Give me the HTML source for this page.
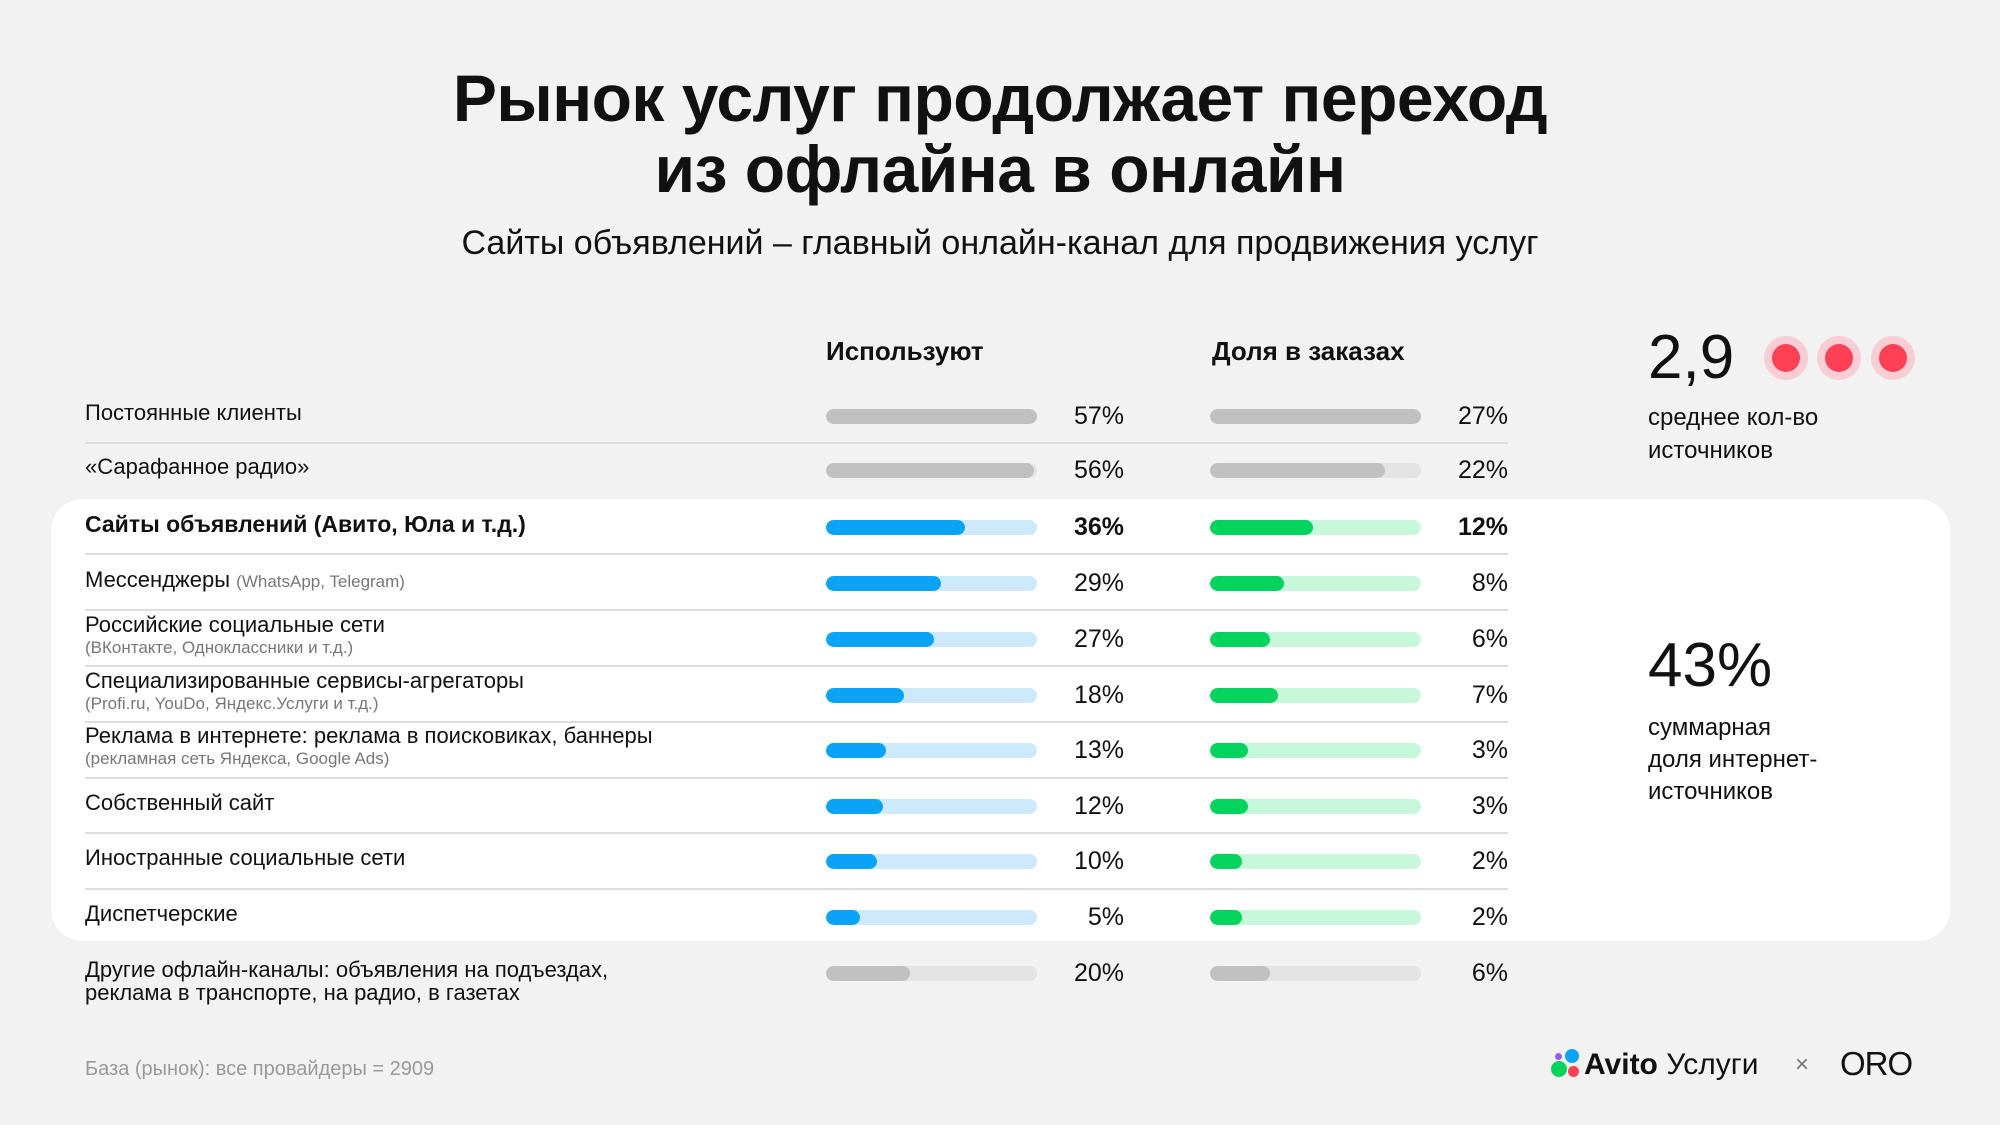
<!DOCTYPE html>
<html><head><meta charset="utf-8"><style>
body{margin:0;width:2000px;height:1125px;background:#f2f2f2;font-family:"Liberation Sans","DejaVu Sans",sans-serif;color:#111;position:relative;overflow:hidden}
.a{position:absolute;white-space:nowrap}
.t{left:0;width:2000px;text-align:center;font-weight:bold;font-size:66px;letter-spacing:-0.5px}
.card{position:absolute;left:51px;top:499px;width:1899px;height:442px;background:#fff;border-radius:32px}
.lab{left:85px;font-size:22px;line-height:26px}
.sub{font-size:17px;color:#777}
.tr{position:absolute;height:15px;width:211px;border-radius:8px;overflow:hidden}
.tr i{position:absolute;left:0;top:0;bottom:0;border-radius:8px}
.p{font-size:25px;text-align:right;width:120px;line-height:30px}
.sep{position:absolute;left:85px;width:1423px;height:2px;background:#ddd}
.dot{position:absolute;width:44px;height:44px;border-radius:50%;background:#f8cdd3}
.dot:after{content:"";position:absolute;left:8px;top:8px;width:28px;height:28px;border-radius:50%;background:#ff4055}
</style></head><body>
<div class="a t" style="top:63px;line-height:70px">Рынок услуг продолжает переход</div>
<div class="a t" style="top:134px;line-height:70px">из офлайна в онлайн</div>
<div class="a" style="left:0;width:2000px;text-align:center;top:224px;font-size:34px;line-height:38px">Сайты объявлений – главный онлайн-канал для продвижения услуг</div>
<div class="a" style="left:826px;top:336px;font-size:26px;font-weight:bold;line-height:30px">Используют</div>
<div class="a" style="left:1212px;top:336px;font-size:26px;font-weight:bold;line-height:30px">Доля в заказах</div>
<div class="a" style="left:1648px;top:322px;font-size:62px;line-height:72px">2,9</div>
<div class="dot" style="left:1764px;top:336px"></div><div class="dot" style="left:1817px;top:336px"></div><div class="dot" style="left:1871px;top:336px"></div>
<div class="a" style="left:1648px;top:401px;font-size:24px;line-height:33px">среднее кол-во<br>источников</div>
<div class="card"></div>
<div class="a" style="left:1648px;top:630px;font-size:62px;line-height:72px">43%</div>
<div class="a" style="left:1648px;top:712px;font-size:24px;line-height:32px">суммарная<br>доля интернет-<br>источников</div>
<div id="rows"></div>
<div class="a" style="left:85px;top:1057px;font-size:20px;color:#999;line-height:24px">База (рынок): все провайдеры = 2909</div>
<div class="a" style="left:1551px;top:1049px;width:30px;height:30px">
<div style="position:absolute;left:4px;top:4px;width:7px;height:7px;border-radius:50%;background:#9a5cf0"></div>
<div style="position:absolute;left:14px;top:0;width:14px;height:14px;border-radius:50%;background:#0aa3f5"></div>
<div style="position:absolute;left:0;top:12px;width:16px;height:16px;border-radius:50%;background:#04d35e"></div>
<div style="position:absolute;left:17px;top:17px;width:11px;height:11px;border-radius:50%;background:#ff4055"></div></div>
<div class="a" style="left:1584px;top:1048px;font-size:30px;line-height:34px"><b>Avito</b> Услуги</div>
<div class="a" style="left:1795px;top:1050px;font-size:24px;color:#777;line-height:30px">×</div>
<div class="a" style="left:1840px;top:1046px;font-size:33px;line-height:36px;letter-spacing:-1px">ORO</div>
<script>
var R=[[415,"Постоянные клиенты","",211,211,0],[469,"«Сарафанное радио»","",208,175,0],[526,"Сайты объявлений (Авито, Юла и т.д.)","",139,103,2],[582,"Мессенджеры <span class=sub>(WhatsApp, Telegram)</span>","",115,74,1],[638,"Российские социальные сети","(ВКонтакте, Одноклассники и т.д.)",108,60,1],[694,"Специализированные сервисы-агрегаторы","(Profi.ru, YouDo, Яндекс.Услуги и т.д.)",78,68,1],[749,"Реклама в интернете: реклама в поисковиках, баннеры","(рекламная сеть Яндекса, Google Ads)",60,38,1],[805,"Собственный сайт","",57,38,1],[860,"Иностранные социальные сети","",51,32,1],[916,"Диспетчерские","",34,32,1],[972,"Другие офлайн-каналы: объявления на подъездах,","реклама в транспорте, на радио, в газетах",84,60,3]];
var P=[["57%","27%"],["56%","22%"],["36%","12%"],["29%","8%"],["27%","6%"],["18%","7%"],["13%","3%"],["12%","3%"],["10%","2%"],["5%","2%"],["20%","6%"]];
var h="";
R.forEach(function(r,i){var y=r[0],c=r[5];
 var g=(c==0||c==3);
 var c1=g?["#e3e3e3","#c0c0c0"]:["#cdeafc","#0aa3f5"],c2=g?["#e3e3e3","#c0c0c0"]:["#c8f8dc","#04d35e"];
 if(r[2]){ if(c==3) h+='<div class="a lab" style="top:'+(y-14)+'px;line-height:23px">'+r[1]+'<br>'+r[2]+'</div>';
  else h+='<div class="a lab" style="top:'+(y-26)+'px">'+r[1]+'</div><div class="a lab sub" style="top:'+(y)+'px;line-height:20px">'+r[2]+'</div>';}
 else h+='<div class="a lab" style="top:'+(y-15)+'px;'+(c==2?'font-weight:bold;font-size:23px':'')+'">'+r[1]+'</div>';
 h+='<div class="tr" style="left:826px;top:'+(y-6)+'px;background:'+c1[0]+'"><i style="width:'+r[3]+'px;background:'+c1[1]+'"></i></div>';
 h+='<div class="tr" style="left:1210px;top:'+(y-6)+'px;background:'+c2[0]+'"><i style="width:'+r[4]+'px;background:'+c2[1]+'"></i></div>';
 var b=c==2?'font-weight:bold;':'';
 h+='<div class="a p" style="left:1004px;top:'+(y-14)+'px;'+b+'">'+P[i][0]+'</div><div class="a p" style="left:1388px;top:'+(y-14)+'px;'+b+'">'+P[i][1]+'</div>';
});
[442,553,609,665,721,777,832,888].forEach(function(y){h+='<div class="sep" style="top:'+y+'px"></div>'});
document.getElementById("rows").innerHTML=h;
</script>
</body></html>
